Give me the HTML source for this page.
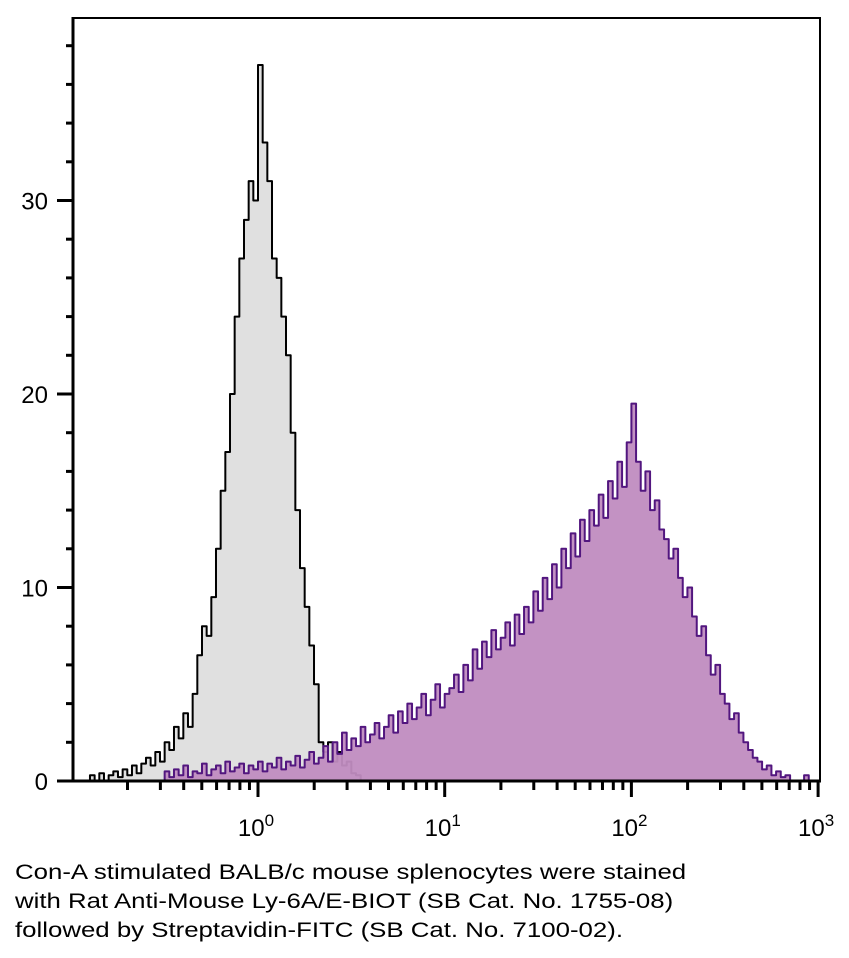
<!DOCTYPE html>
<html><head><meta charset="utf-8"><style>
html,body{margin:0;padding:0;background:#fff;width:849px;height:958px;overflow:hidden;font-family:"Liberation Sans",sans-serif}
#cap{position:absolute;left:15px;top:858px;font-size:21.5px;line-height:29px;color:#000;transform-origin:0 0;transform:scaleX(1.2);white-space:nowrap}
</style></head><body>
<svg id="chart" width="849" height="850" style="position:absolute;left:0;top:0"></svg>
<div id="cap">Con-A stimulated BALB/c mouse splenocytes were stained<br>with Rat Anti-Mouse Ly-6A/E-BIOT (SB Cat. No. 1755-08)<br>followed by Streptavidin-FITC (SB Cat. No. 7100-02).</div>
<script>
const grayStart = -0.9;
const binStep = 0.025;
const grayCounts = [0.3,0,0.4,0,0.3,0.5,0.2,0.6,0.3,0.8,0.4,0.9,1.2,0.8,1.5,1.0,2.0,1.6,2.8,2.2,3.5,2.8,4.5,6.5,8.0,7.5,9.5,12,15,17,20,24,27,29,31,30,37,33,31,27,26,24,22,18,14,11,9,7,5,2,1.5,2,1,1.5,0.8,1,0.4,0.3,0];
const purpleStart = -0.5;
const purpleCounts = [0.5,0.2,0.6,0.3,0.8,0.2,0.5,0.4,0.9,0.3,0.6,0.8,0.4,1.0,0.5,0.7,0.9,0.4,0.8,0.6,1.0,0.5,0.9,0.7,1.2,0.6,1.0,0.8,1.3,0.7,1.1,1.5,0.9,
1.2,1.8,1.0,2.0,1.4,2.5,1.6,2.2,1.8,2.8,2.0,2.4,3.0,2.2,2.8,3.4,2.5,3.6,3.0,4.0,3.2,3.8,4.5,3.4,4.2,5.0,3.8,4.5,
4.8,5.5,4.6,6.0,5.2,6.8,5.8,7.2,6.4,7.8,6.8,7.4,8.2,7.0,8.6,7.6,9.0,8.2,9.8,8.8,10.5,9.4,11.2,10.0,12.0,11.0,12.8,11.6,13.5,12.4,14.0,13.2,14.8,13.6,15.5,14.6,16.5,15.2,17.5,19.5,
16.5,15,16,14,14.5,13,12.5,11.5,12,10.5,9.5,10,8.5,7.5,8,6.5,5.5,6,4.5,4,3.2,3.5,2.5,2.0,1.6,1.2,1.0,0.6,0.8,0.3,0.5,0.2,0.3,0,0,0,0.3,0];
const yTicks = [0,10,20,30];
const xDecades = [0,1,2,3];

const NS="http://www.w3.org/2000/svg";
const svg=document.getElementById('chart');
const L=73,R=820,T=18,B=781;
const xs=v=>258+v*186.7;
const ys=v=>781-v*19.35;
function mk(tag,attrs,parent){const e=document.createElementNS(NS,tag);for(const k in attrs)e.setAttribute(k,attrs[k]);(parent||svg).appendChild(e);return e;}
function histPath(start,counts){
  let d='M'+xs(start)+','+B;
  counts.forEach((c,i)=>{const x0=xs(start+i*binStep),x1=xs(start+(i+1)*binStep),y=ys(c);d+=' L'+x0+','+y+' L'+x1+','+y;});
  d+=' L'+xs(start+counts.length*binStep)+','+B+' Z';return d;
}
const g=mk('path',{d:histPath(grayStart,grayCounts),fill:'#e0e0e0',stroke:'#000','stroke-width':2,'stroke-linejoin':'round'});


const p=mk('path',{d:histPath(purpleStart,purpleCounts),fill:'#c08cc0','fill-opacity':0.95,stroke:'#52167f','stroke-width':2,'stroke-linejoin':'round'});


const frame=mk('rect',{x:L,y:T,width:R-L,height:B-T,fill:'none',stroke:'#000','stroke-width':2});


mk('line',{x1:L,y1:T-1,x2:L,y2:B+1,stroke:'#000','stroke-width':3});
mk('line',{x1:L-1,y1:B,x2:R+1,y2:B,stroke:'#000','stroke-width':3});
for(let v=0;v<=38;v+=2){const major=yTicks.includes(v);mk('line',{x1:major?57:66,x2:L,y1:ys(v),y2:ys(v),stroke:'#000','stroke-width':3});}
yTicks.forEach(v=>{const t=mk('text',{x:48,y:ys(v)+9,'text-anchor':'end','font-size':24,'font-family':'Liberation Sans, sans-serif'});t.textContent=v;

});
for(let d=-1;d<3;d++){for(let m=2;m<=9;m++){const x=xs(d+Math.log10(m));if(x>L)mk('line',{x1:x,x2:x,y1:B,y2:B+9,stroke:'#000','stroke-width':3});}}
xDecades.forEach(d=>{mk('line',{x1:xs(d),x2:xs(d),y1:B,y2:B+16,stroke:'#000','stroke-width':3});
 const t=mk('text',{x:xs(d)-2,y:836,'text-anchor':'middle','font-size':24,'font-family':'Liberation Sans, sans-serif'});
 
 
 const a=mk('tspan',{},t);a.textContent='10';const b=mk('tspan',{dy:-10,'font-size':17},t);b.textContent=d;});
</script>
</body></html>
